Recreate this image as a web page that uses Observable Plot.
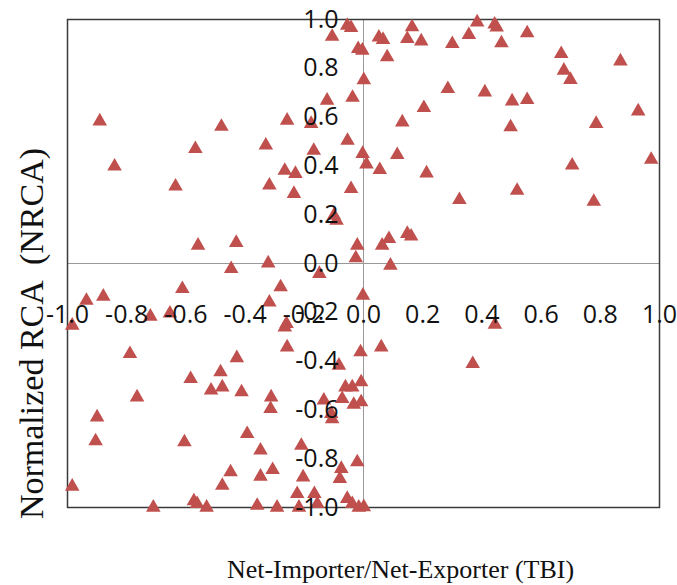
<!DOCTYPE html>
<html>
<head>
<meta charset="utf-8">
<script src="https://cdn.jsdelivr.net/npm/d3@7"></script>
<script src="https://cdn.jsdelivr.net/npm/@observablehq/plot@0.6"></script>
<style>
  html, body { margin: 0; padding: 0; background: #fff; }
</style>
</head>
<body>
<div id="chart"></div>
<script>
// Net-Importer/Net-Exporter (TBI) values
const tbi = [
  -0.891, -0.841, -0.635, -0.568, -0.480, -0.559, -0.430, -0.447, -0.322, -0.330,
  -0.318, -0.258, -0.266, -0.230, -0.235, -0.168, -0.177, -0.123, -0.106, -0.055,
  -0.042, -0.018, -0.004, 0.001, -0.037, -0.054, -0.003, 0.010, -0.042, -0.100,
  -0.091, -0.021, -0.026, -0.149,
  0.052, 0.066, 0.080, 0.055, 0.131, 0.114, 0.164, 0.148, 0.195, 0.204,
  0.213, 0.300, 0.285, 0.324, 0.356, 0.384, 0.410, 0.443, 0.450, 0.466,
  0.502, 0.497, 0.553, 0.553, 0.519, 0.668, 0.677, 0.699, 0.705, 0.786,
  0.778, 0.868, 0.928, 0.972, 0.063, 0.086, 0.148, 0.161, 0.091,
  -0.984, -0.936, -0.879, -0.720, -0.654, -0.612, -0.280, -0.318, -0.260, -0.266,
  -0.258, -0.002, -0.789, -0.765, -0.900, -0.905, -0.984, -0.710, -0.605, -0.584,
  -0.573, -0.562, -0.530, -0.515, -0.483, -0.477, -0.428, -0.412, -0.477, -0.449,
  -0.393, -0.359, -0.348, -0.348, -0.312, -0.314, -0.307, -0.292, -0.224, -0.218,
  -0.210, -0.204, -0.166, -0.156, -0.134, -0.109, -0.106, -0.083, -0.072, -0.061,
  -0.038, -0.033, -0.008, -0.008, -0.010, -0.075, -0.080, -0.021, -0.055, -0.038,
  -0.016, 0.001,
  0.060, 0.444, 0.369
];
// Normalized RCA (NRCA) values
const nrca = [
  0.583, 0.398, 0.316, 0.470, 0.561, 0.074, 0.085, -0.022, 0.001, 0.484,
  0.320, 0.586, 0.381, 0.368, 0.286, 0.463, 0.573, 0.668, 0.930, 0.975,
  0.966, 0.880, 0.873, 0.752, 0.680, 0.504, 0.450, 0.407, 0.306, 0.197,
  0.176, 0.074, 0.022, -0.042,
  0.927, 0.917, 0.846, 0.384, 0.579, 0.445, 0.969, 0.921, 0.911, 0.638,
  0.370, 0.900, 0.716, 0.261, 0.937, 0.989, 0.702, 0.980, 0.968, 0.903,
  0.665, 0.559, 0.944, 0.671, 0.299, 0.859, 0.791, 0.753, 0.402, 0.573,
  0.254, 0.829, 0.624, 0.426, 0.074, 0.101, 0.122, 0.111, -0.008,
  -0.254, -0.152, -0.135, -0.217, -0.204, -0.104, -0.097, -0.159, -0.247, -0.261,
  -0.343, -0.131, -0.370, -0.548, -0.630, -0.728, -0.914, -1.000, -0.732, -0.473,
  -0.974, -0.985, -1.000, -0.520, -0.445, -0.507, -0.387, -0.527, -0.910, -0.855,
  -0.698, -0.992, -0.766, -0.873, -0.548, -0.596, -0.846, -1.000, -0.944, -1.000,
  -0.746, -0.876, -0.944, -0.985, -0.561, -0.616, -0.637, -0.418, -0.555, -0.507,
  -0.507, -0.578, -0.568, -0.486, -0.363, -0.841, -0.882, -0.814, -0.964, -0.985,
  -1.000, -0.998,
  -0.343, -0.250, -0.411
];
const xTicks = [-1.0, -0.8, -0.6, -0.4, -0.2, 0.0, 0.2, 0.4, 0.6, 0.8, 1.0];
const yTicks = [-1.0, -0.8, -0.6, -0.4, -0.2, 0.0, 0.2, 0.4, 0.6, 0.8, 1.0];
const axisCross = 0;
const xTitle = "Net-Importer/Net-Exporter (TBI)";
const yTitle = "Normalized RCA  (NRCA)";

const points = tbi.map((x, i) => ({x, y: nrca[i]}));
const fmt = d => d.toFixed(1);

const tickFont = "'Open Sans', 'Liberation Sans', sans-serif";
const titleFont = "'Liberation Serif', 'Times New Roman', serif";

const chart = Plot.plot({
  width: 677,
  height: 585,
  marginLeft: 67,
  marginRight: 18,
  marginTop: 19,
  marginBottom: 78,
  x: {domain: [-1, 1], axis: null},
  y: {domain: [-1, 1], axis: null},
  style: {background: "#fff", overflow: "visible"},
  marks: [
    Plot.ruleX([axisCross], {stroke: "#999", strokeWidth: 1}),
    Plot.ruleY([axisCross], {stroke: "#999", strokeWidth: 1}),
    Plot.frame({stroke: "#3a3a3a", strokeWidth: 1.5}),
    Plot.dot(points, {x: "x", y: "y", symbol: "triangle", r: 5.4, fill: "#c0504d", stroke: "none"}),
    Plot.text(yTicks, {x: () => axisCross, y: d => d, text: fmt, dx: -25, textAnchor: "end",
      fontSize: 25, fontFamily: tickFont, fill: "#111"}),
    Plot.text(xTicks, {x: d => d, y: () => axisCross, text: fmt, dy: 51,
      fontSize: 25, fontFamily: tickFont, fill: "#111"}),
    Plot.text([xTitle], {frameAnchor: "bottom", text: d => d, dx: 37, dy: 70,
      fontSize: 26, fontFamily: titleFont, fill: "#111"}),
    Plot.text([yTitle], {frameAnchor: "left", text: d => d, rotate: -90, dx: -35, dy: 70,
      textAnchor: "middle", lineAnchor: "middle",
      fontSize: 34, fontFamily: titleFont, fill: "#111"})
  ]
});
document.getElementById("chart").appendChild(chart);
</script>
</body>
</html>
